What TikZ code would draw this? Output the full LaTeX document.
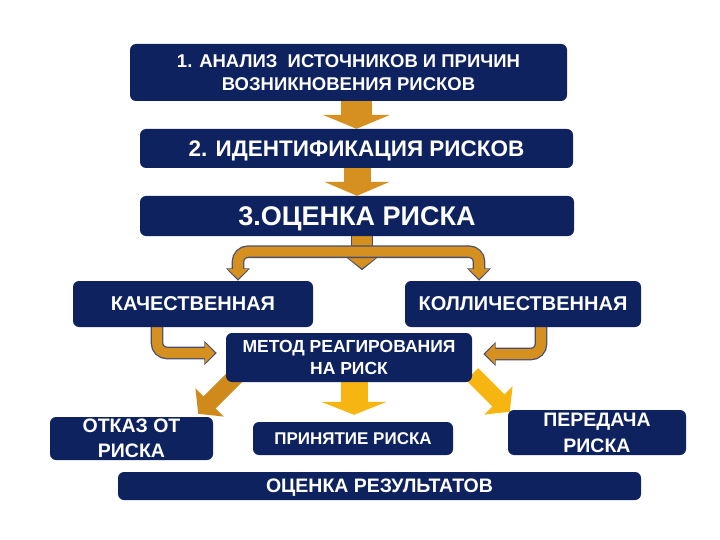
\documentclass[tikz,border=0pt]{standalone}
\usepackage{fontspec}
\setmainfont{Liberation Sans}
\usetikzlibrary{arrows.meta,calc}
\definecolor{navy}{RGB}{14,34,96}
\definecolor{gold}{RGB}{214,144,32}
\definecolor{dgold}{RGB}{208,138,28}
\definecolor{ygold}{RGB}{247,181,18}
\definecolor{outl}{RGB}{72,80,112}
\pgfdeclarelayer{bg}
\pgfsetlayers{bg,main}
\begin{document}
\begin{tikzpicture}[x=1pt,y=-1pt,
  box/.style={fill=navy, rounded corners=6pt, text=white, align=center, inner sep=0pt, text depth=0pt},
  ol/.style={draw=outl, line width=12.6pt, rounded corners=10pt, -{Triangle[width=23.5pt,length=12.5pt]}},
  fl/.style={draw=gold, line width=10pt, rounded corners=10pt, shorten >=1.8pt, -{Triangle[width=19.5pt,length=10pt]}}
]
\useasboundingbox (0,0) rectangle (720,540);

\node[box, minimum width=437pt, minimum height=57pt, font=\fontsize{18.5}{23}\selectfont\bfseries] (b1) at (348.5,72.5) {1. АНАЛИЗ\ \ ИСТОЧНИКОВ И ПРИЧИН\\ВОЗНИКНОВЕНИЯ РИСКОВ};
\node[box, minimum width=433pt, minimum height=39pt, font=\fontsize{22.5}{26}\selectfont\bfseries] (b2) at (356.5,148.5) {2. ИДЕНТИФИКАЦИЯ РИСКОВ};
\node[box, minimum width=434pt, minimum height=40pt, font=\fontsize{27}{32}\selectfont\bfseries] (b3) at (357,216) {3.ОЦЕНКА РИСКА};
\node[box, minimum width=240pt, minimum height=46pt, font=\fontsize{20}{23}\selectfont\bfseries] (kach) at (193,304) {КАЧЕСТВЕННАЯ};
\node[box, minimum width=236pt, minimum height=46pt, font=\fontsize{20}{23}\selectfont\bfseries] (koll) at (523,304) {КОЛЛИЧЕСТВЕННАЯ};
\node[box, minimum width=246pt, minimum height=49pt, font=\fontsize{17.5}{22}\selectfont\bfseries] (metod) at (349,357.5) {МЕТОД РЕАГИРОВАНИЯ\\НА РИСК};
\node[box, minimum width=163pt, minimum height=43pt, font=\fontsize{19.5}{25}\selectfont\bfseries] (otkaz) at (131.5,438.5) {ОТКАЗ ОТ\\РИСКА};
\node[box, minimum width=200pt, minimum height=33pt, font=\fontsize{17}{22}\selectfont\bfseries] (prin) at (353,438.5) {ПРИНЯТИЕ РИСКА};
\node[box, minimum width=178pt, minimum height=45pt, font=\fontsize{19.5}{26}\selectfont\bfseries] (pered) at (597,432.5) {ПЕРЕДАЧА\\РИСКА};
\node[box, minimum width=523pt, minimum height=28pt, font=\fontsize{19.5}{23}\selectfont\bfseries] (ocenka) at (379.5,486) {ОЦЕНКА РЕЗУЛЬТАТОВ};

\coordinate (j) at ($(b3.south)+(5,15.5)$);
\coordinate (kt) at ($(kach.north)+(45,0)$);
\coordinate (lt) at ($(koll.north)+(-44,0)$);

\begin{pgfonlayer}{bg}
  % main flow
  \draw[gold, line width=31pt, -{Triangle[width=67pt,length=14pt]}] (b1.south -| b2.north) -- (b2.north);
  \draw[gold, line width=27pt, -{Triangle[width=65pt,length=14pt]}] (b2.south -| b3.north) -- (b3.north);
  % branch from 3
  \draw[draw=outl, line width=22.6pt, -{Triangle[width=35pt,length=14.5pt]}] ($(b3.south)+(5,-5)$) -- ($(b3.south)+(5,34)$);
  \draw[draw=gold, line width=20pt, shorten >=1.8pt, -{Triangle[width=31pt,length=12pt]}] ($(b3.south)+(5,-5)$) -- ($(b3.south)+(5,34)$);
  \draw[ol] (j) -| (kt);
  \draw[ol] (j) -| (lt);
  \draw[fl] (j) -| (kt);
  \draw[fl] (j) -| (lt);
  % to method
  \draw[ol] ($(kach.south)+(-36,-4)$) |- ($(metod.west)+(-9,-4.5)$);
  \draw[fl] ($(kach.south)+(-36,-4)$) |- ($(metod.west)+(-9,-4.5)$);
  \draw[ol] ($(koll.south)+(18,-4)$) |- ($(metod.east)+(11,-3.5)$);
  \draw[fl] ($(koll.south)+(18,-4)$) |- ($(metod.east)+(11,-3.5)$);
  % outcomes
  \draw[dgold, line width=17pt, -{Triangle[width=39pt,length=16pt]}] ($(metod.south west)+(12,-8)$) -- ($(otkaz.north east)+(-15,-3)$);
  \draw[ygold, line width=27pt, -{Triangle[width=65pt,length=13pt]}] ($(metod.south)+(5,0)$) -- ($(prin.north)+(1,-7)$);
  \draw[ygold, line width=17pt, -{Triangle[width=39pt,length=16pt]}] ($(metod.south east)+(0,-8)$) -- ($(pered.north west)+(2,2)$);
\end{pgfonlayer}
\end{tikzpicture}
\end{document}
